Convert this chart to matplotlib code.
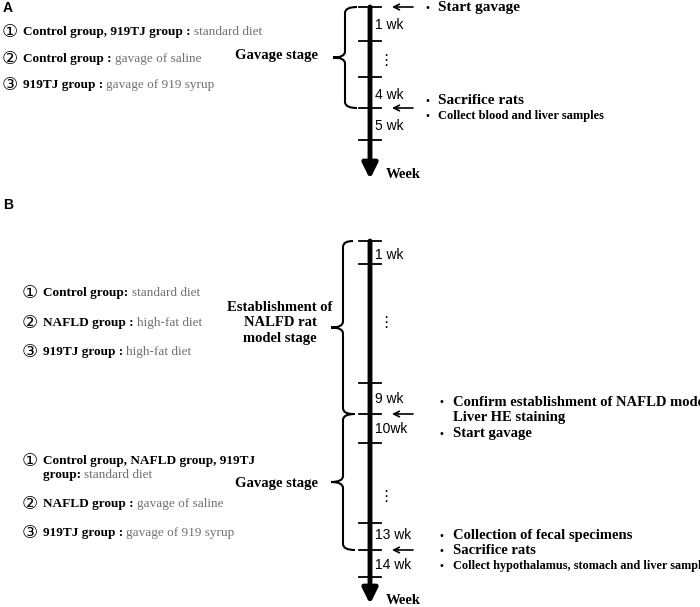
import matplotlib
matplotlib.use("Agg")
import matplotlib.pyplot as plt
import matplotlib.transforms as mtrans
from matplotlib.path import Path
from matplotlib.patches import PathPatch

W, H = 700, 607
fig = plt.figure(figsize=(W/100, H/100), dpi=100)
ax = fig.add_axes([0, 0, 1, 1])
ax.set_xlim(0, W); ax.set_ylim(H, 0); ax.axis("off")

SERIF = "Liberation Serif"; SANS = "Liberation Sans"
GREY = "#707070"
AX_X = 370

# ---- data ----
A_ticks = [7, 41, 77, 108, 140]
A_week_labels = [("1 wk", 25), ("\u22ee", 60), ("4 wk", 95), ("5 wk", 126)]
A_groups = [("Control group, 919TJ group : ", "standard diet", 32),
            ("Control group : ", "gavage of saline", 59),
            ("919TJ group : ", "gavage of 919 syrup", 85)]
A_events = [("Start gavage", 8, 11), ("Sacrifice rats", 101, 11), ("Collect blood and liver samples", 116, 9)]
A_arrows = [7, 108]

B_ticks = [241, 264, 383, 414, 443, 523, 550, 577]
B_week_labels = [("1 wk", 255), ("\u22ee", 322), ("9 wk", 399), ("10wk", 429), ("\u22ee", 497), ("13 wk", 535), ("14 wk", 565)]
B_groups1 = [("Control group: ", "standard diet", 293),
             ("NAFLD group : ", "high-fat diet", 323),
             ("919TJ group : ", "high-fat diet", 352)]
B_events = [("Confirm establishment of NAFLD model", 402, 10.5, True), ("Liver HE staining", 417, 10.5, False),
            ("Start gavage", 434, 10.5, True), ("Collection of fecal specimens", 536, 10.5, True),
            ("Sacrifice rats", 551, 10.5, True), ("Collect hypothalamus, stomach and liver samples", 566, 8.8, True)]
B_arrows = [414, 550]

FS = 9.5


def brace(x, y0, y1, w=12, tip=10):
    ym = (y0 + y1) / 2
    verts = [(x + w, y0), (x, y0), (x, y0 + 6), (x, ym - 6), (x, ym), (x - tip, ym),
             (x, ym), (x, ym + 6), (x, y1 - 6), (x, y1), (x + w, y1)]
    codes = [Path.MOVETO, Path.CURVE3, Path.CURVE3, Path.LINETO, Path.CURVE3, Path.CURVE3,
             Path.CURVE3, Path.CURVE3, Path.LINETO, Path.CURVE3, Path.CURVE3]
    ax.add_patch(PathPatch(Path(verts, codes), fill=False, lw=1.5, color="black"))


def timeline(y0, y1, ticks, labels):
    ax.annotate("", xy=(AX_X, y1), xytext=(AX_X, y0),
                arrowprops=dict(arrowstyle="-|>,head_width=0.45,head_length=0.9", lw=3.5, color="black",
                                shrinkA=0, shrinkB=0))
    for t in ticks:
        ax.plot([AX_X - 11, AX_X + 11], [t, t], color="black", lw=1.3)
    for s, y in labels:
        if s == "\u22ee":
            ax.text(AX_X + 8, y, s, fontsize=11, family="DejaVu Sans", va="center", ha="left")
        else:
            ax.text(AX_X + 5, y, s, fontsize=10, family=SANS, va="center", ha="left")
    ax.text(AX_X + 16, y1 - 4, "Week", fontsize=10.5, family=SERIF, weight="bold", va="center")


def group_line(x, y, num, bold, grey, fs=FS):
    if num:
        ax.text(x, y, num, fontsize=13, family="DejaVu Sans", va="center", ha="center")
    t = ax.text(x + 13, y, bold, fontsize=fs, family=SERIF, weight="bold", va="center")
    fig.canvas.draw()
    bb = t.get_window_extent(renderer=fig.canvas.get_renderer())
    tr = mtrans.blended_transform_factory(mtrans.IdentityTransform(), ax.transData)
    ax.text(bb.x1, y, grey, fontsize=fs, family=SERIF, color=GREY, va="center", transform=tr)


def arrow(y):
    ax.annotate("", xy=(392, y), xytext=(413, y),
                arrowprops=dict(arrowstyle="->", lw=1.2, color="black", shrinkA=0, shrinkB=0))


# ---- Panel A ----
ax.text(3, 8, "A", fontsize=10, family=SANS, weight="bold", va="center")
for i, (b, g, y) in enumerate(A_groups):
    group_line(10, y, "\u2460\u2461\u2462"[i], b, g)
ax.text(318, 56, "Gavage stage", fontsize=10.5, family=SERIF, weight="bold", va="center", ha="right")
brace(345, A_ticks[0], A_ticks[3], w=12, tip=12)
timeline(A_ticks[0], 179, A_ticks, A_week_labels)
for y in A_arrows:
    arrow(y)
for s, y, fs in A_events:
    ax.text(425, y, "\u2022", fontsize=7, family="DejaVu Sans", va="center")
    ax.text(438, y, s, fontsize=fs, family=SERIF, weight="bold", va="center")

# ---- Panel B ----
ax.text(3, 205, "B", fontsize=10, family=SANS, weight="bold", va="center")
for i, (b, g, y) in enumerate(B_groups1):
    group_line(30, y, "\u2460\u2461\u2462"[i], b, g)
ax.text(30, 461, "\u2460", fontsize=13, family="DejaVu Sans", va="center", ha="center")
ax.text(43, 461, "Control group, NAFLD group, 919TJ", fontsize=FS, family=SERIF, weight="bold", va="center")
group_line(30, 475, "", "group: ", "standard diet")
group_line(30, 504, "\u2461", "NAFLD group : ", "gavage of saline")
group_line(30, 533, "\u2462", "919TJ group : ", "gavage of 919 syrup")

ax.text(280, 323, "Establishment of\nNALFD rat\nmodel stage", fontsize=10.5, family=SERIF, weight="bold",
        va="center", ha="center", linespacing=1.25)
brace(343, B_ticks[0], B_ticks[3], w=10, tip=12)
ax.text(318, 483, "Gavage stage", fontsize=10.5, family=SERIF, weight="bold", va="center", ha="right")
brace(343, B_ticks[3], B_ticks[6], w=12, tip=12)
timeline(B_ticks[0], 604, B_ticks, B_week_labels)
for y in B_arrows:
    arrow(y)
for s, y, fs, bul in B_events:
    if bul:
        ax.text(439, y, "\u2022", fontsize=7, family="DejaVu Sans", va="center")
    ax.text(453, y, s, fontsize=fs, family=SERIF, weight="bold", va="center")

fig.savefig("out.png", dpi=100)
